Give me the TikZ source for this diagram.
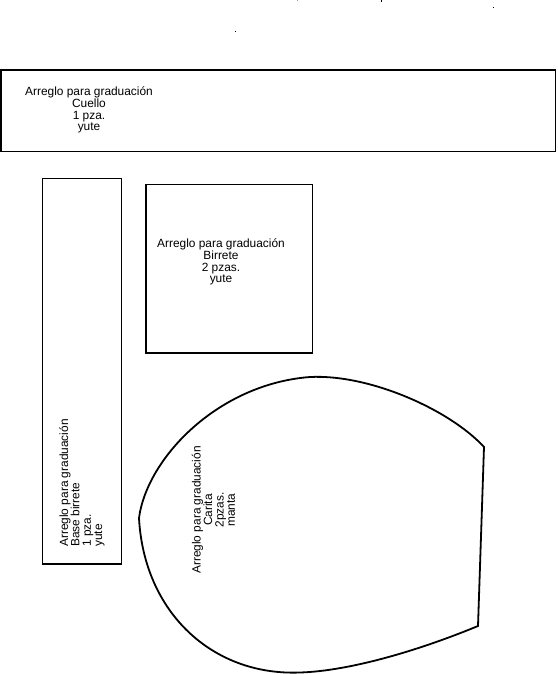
\documentclass[tikz,border=0pt]{standalone}
\usepackage{fontspec}
\setmainfont{Liberation Sans}
\begin{document}
\begin{tikzpicture}[x=1pt,y=-1pt,
  piece/.style={draw=black,line width=1.8pt},
  lbl/.style={font=\fontsize{11.9}{11.8}\selectfont,align=center,inner sep=0pt},
  rlbl/.style={font=\fontsize{11.9}{11.4}\selectfont,align=center,inner sep=0pt,rotate=90},
  dotmark/.style={fill=black}]
\useasboundingbox (0,0) rectangle (557,674);
% Cuello
\draw[piece] (1,70) rectangle (555.5,151.5);
\node[lbl] (cuello) at (89,110) {Arreglo para graduación\\Cuello\\1 pza.\\yute};
% Base birrete
\draw[piece] (42.5,178.5) rectangle (121.5,564);
\node[rlbl,align=left] (base) at (82,483) {Arreglo para graduación\\Base birrete\\1 pza.\\yute};
% Birrete
\draw[piece] (146,184.5) rectangle (312.5,353);
\node[lbl] (birrete) at (221,262) {Arreglo para graduación\\Birrete\\2 pzas.\\yute};
% Carita
\draw[piece] (139,518) .. controls (147,458) and (218,384) .. (310,377)
  .. controls (370,374) and (450,410) .. (484,447)
  -- (478,626)
  .. controls (420,650) and (350,671) .. (300,672.5)
  .. controls (212,676) and (144,612) .. (139,518) -- cycle;
\node[rlbl] (carita) at (213.5,510) {Arreglo para graduación\\Carita\\2pzas.\\manta};
% stray marks
\fill[dotmark] (234.5,31.5) rectangle (235.5,32.5);
\fill[dotmark] (492.5,7.5) rectangle (493.5,8.5);
\fill[dotmark] (380.5,0) rectangle (382,2.5);
\fill[black!40] (296.5,0) rectangle (297.5,1.5);
\end{tikzpicture}
\end{document}
